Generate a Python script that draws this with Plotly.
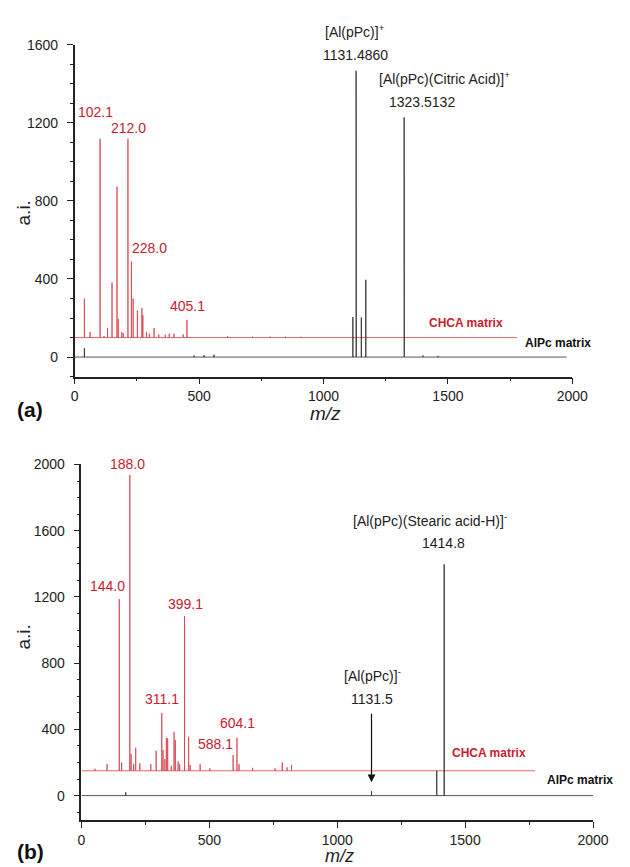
import plotly.graph_objects as go

# ---------------- Data: panel (a) ----------------
a_red_mz = [39, 62, 102, 118, 132, 150, 170, 175, 189, 195, 214, 228, 235, 252, 270, 274,
            289, 300, 319, 338, 364, 380, 399, 436, 451, 615, 715, 786, 847, 908]
a_red_int = [200, 28, 1018, 8, 49, 282, 773, 95, 28, 22, 1018, 389, 200, 139, 151, 115,
             28, 20, 49, 15, 15, 20, 20, 16, 91, 7, 5, 5, 5, 4]
a_red_offset = 100
a_red_end = 1778

a_blk_mz = [39, 480, 520, 560, 1118, 1131, 1132, 1152, 1170, 1324, 1325, 1400, 1460]
a_blk_int = [45, 8, 10, 12, 205, 1466, 1015, 203, 396, 1228, 878, 8, 6]
a_blk_end = 1977

a_red_labels = ["102.1", "212.0", "228.0", "405.1"]

# ---------------- Data: panel (b) ----------------
b_red_mz = [53, 100, 148, 157, 189, 194, 204, 212, 228, 271, 292, 314, 319, 326, 332, 337,
            351, 362, 367, 378, 384, 403, 419, 425, 464, 502, 593, 608, 616, 669, 757, 785,
            804, 821]
b_red_int = [12, 40, 1037, 50, 1786, 100, 40, 139, 45, 40, 120, 349, 125, 70, 199, 196,
             30, 235, 185, 56, 40, 934, 205, 35, 40, 15, 95, 199, 40, 18, 15, 50, 20, 35]
b_red_offset = 150
b_red_end = 1773

b_blk_mz = [173, 1134, 1389, 1418]
b_blk_int = [20, 26, 150, 1397]
b_blk_end = 2000

b_red_labels = ["144.0", "188.0", "311.1", "399.1", "588.1", "604.1"]

RED = "#c9202f"
RED_LINE = "#d9404c"
BLK_LINE = "#2a2a2a"
TXT = "#222222"
FONT = "Liberation Sans, Arial, sans-serif"


def stick(mz, inten, offset, end):
    xs, ys = [0], [offset]
    for m, h in sorted(zip(mz, inten)):
        xs += [m, m, m]
        ys += [offset, offset + h, offset]
    xs.append(end)
    ys.append(offset)
    return xs, ys


fig = go.Figure()

x, y = stick(a_red_mz, a_red_int, a_red_offset, a_red_end)
fig.add_trace(go.Scatter(x=x, y=y, mode="lines", line=dict(color=RED_LINE, width=0.8),
                         xaxis="x", yaxis="y", showlegend=False))
x, y = stick(a_blk_mz, a_blk_int, 0, a_blk_end)
fig.add_trace(go.Scatter(x=x, y=y, mode="lines", line=dict(color=BLK_LINE, width=0.8),
                         xaxis="x", yaxis="y", showlegend=False))
x, y = stick(b_red_mz, b_red_int, b_red_offset, b_red_end)
fig.add_trace(go.Scatter(x=x, y=y, mode="lines", line=dict(color=RED_LINE, width=0.8),
                         xaxis="x2", yaxis="y2", showlegend=False))
x, y = stick(b_blk_mz, b_blk_int, 0, b_blk_end)
fig.add_trace(go.Scatter(x=x, y=y, mode="lines", line=dict(color=BLK_LINE, width=0.8),
                         xaxis="x2", yaxis="y2", showlegend=False))

axis_common = dict(showgrid=False, zeroline=False, showline=True, linecolor="#222",
                   linewidth=1.5, ticks="outside", ticklen=6, tickwidth=1.2, tickcolor="#222",
                   tickfont=dict(family=FONT, size=14, color=TXT))

fig.update_layout(
    width=630, height=867, autosize=False, margin=dict(l=0, r=0, t=0, b=0),
    paper_bgcolor="white", plot_bgcolor="white",
    xaxis=dict(domain=[0.1159, 0.9317], range=[0, 2000], dtick=500, anchor="y",
               minor=dict(dtick=250, ticks="outside", ticklen=3, tickcolor="#222"),
               **axis_common),
    yaxis=dict(domain=[0.5709, 0.9573], range=[-100, 1600], tickvals=[0, 400, 800, 1200, 1600],
               anchor="x", ticklabelstandoff=6,
               minor=dict(dtick=100, ticks="outside", ticklen=3, tickcolor="#222"),
               **axis_common),
    xaxis2=dict(domain=[0.127, 0.9656], range=[0, 2000], dtick=500, anchor="y2",
                minor=dict(dtick=250, ticks="outside", ticklen=3, tickcolor="#222"),
                **axis_common),
    yaxis2=dict(domain=[0.0542, 0.4686], range=[-150, 2000],
                tickvals=[0, 400, 800, 1200, 1600, 2000], anchor="x2", ticklabelstandoff=6,
                minor=dict(dtick=100, ticks="outside", ticklen=3, tickcolor="#222"),
                **axis_common),
)

ann = []


def add(text, x, y, xref, yref, size=14, color=TXT, yanchor="middle", **kw):
    ann.append(dict(text=text, x=x, y=y, xref=xref, yref=yref, showarrow=False,
                    font=dict(family=FONT, size=size, color=color),
                    xanchor="center", yanchor=yanchor, **kw))


# panel (a) labels
for t, (xx, yy) in zip(a_red_labels, [(82, 1254), (218, 1173), (300, 558), (455, 264)]):
    add(t, xx, yy, "x", "y", color=RED)
add("[Al(pPc)]<sup>+</sup>", 1128, 1 - 23 / 867, "x", "paper")
add("1131.4860", 1128, 1548, "x", "y")
add("[Al(pPc)(Citric Acid)]<sup>+</sup>", 1486, 1431, "x", "y")
add("1323.5132", 1397, 1305, "x", "y")
add("<b>CHCA matrix</b>", 1572, 173, "x", "y", size=12, color=RED)
add("<b>AlPc matrix</b>", 1942, 71, "x", "y", size=12, color="#111")
add("a.i.", 20 / 630, 1 - 207 / 867, "paper", "paper", size=19, textangle=-90)
add("<i>m/z</i>", 332 / 630, 1 - 409 / 867, "paper", "paper", size=19)
add("<b>(a)</b>", 27 / 630, 1 - 405 / 867, "paper", "paper", size=21, color="#111")

# panel (b) labels
for t, (xx, yy, ref) in zip(b_red_labels, [(101, 1263, "y2"), (181, 1 - 460 / 867, "paper"),
                                           (313, 581, "y2"), (405, 1156, "y2"),
                                           (523, 311, "y2"), (610, 439, "y2")]):
    add(t, xx, yy, "x2", ref, color=RED)
add("[Al(pPc)(Stearic acid-H)]<sup>-</sup>", 1364, 1666, "x2", "y2")
add("1414.8", 1417, 1527, "x2", "y2")
add("[Al(pPc)]<sup>-</sup>", 1136, 730, "x2", "y2")
add("1131.5", 1136, 581, "x2", "y2")
add("<b>CHCA matrix</b>", 1595, 259, "x2", "y2", size=12, color=RED)
add("<b>AlPc matrix</b>", 1951, 96, "x2", "y2", size=12, color="#111")
add("a.i.", 20 / 630, 1 - 635 / 867, "paper", "paper", size=19, textangle=-90)
add("<i>m/z</i>", 347 / 630, 0, "paper", "paper", size=18, yanchor="bottom", borderpad=0)
add("<b>(b)</b>", 27 / 630, 1 - 851 / 867, "paper", "paper", size=21, color="#111")

# arrow to the 1131.5 peak
ann.append(dict(text="", x=1134, y=80, xref="x2", yref="y2", showarrow=True,
                ax=0, ay=-70, arrowhead=2, arrowsize=1.3, arrowwidth=1.2, arrowcolor="#111"))

fig.update_layout(annotations=ann)
fig.write_html("out.html", config={"displayModeBar": False, "responsive": False})

# make the page exactly the figure size (no default body margin)
with open("out.html", "r", encoding="utf-8") as f:
    html = f.read()
html = html.replace("<head>", "<head><style>html,body{margin:0;padding:0;overflow:hidden;}</style>", 1)
with open("out.html", "w", encoding="utf-8") as f:
    f.write(html)
